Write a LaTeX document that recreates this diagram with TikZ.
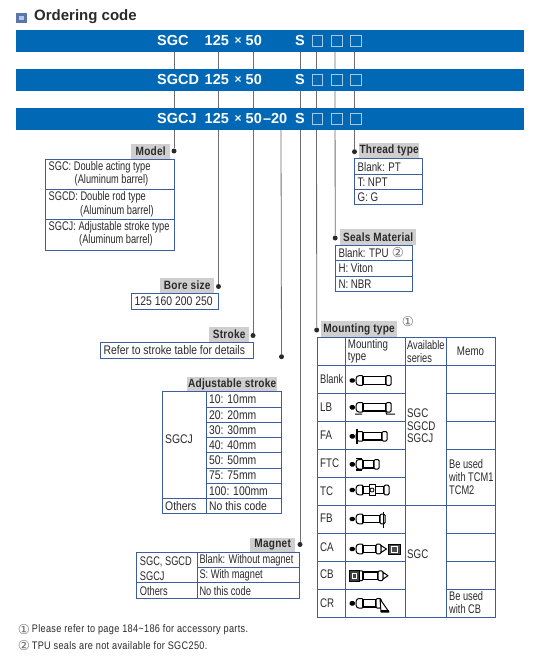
\documentclass[tikz,border=0pt]{standalone}
\usepackage{fontspec}
\setmainfont{Liberation Sans}
\newfontfamily\narrowf[FakeStretch=0.78]{Liberation Sans}
\newfontfamily\tightf[FakeStretch=0.74]{Liberation Sans}
\newfontfamily\widerf[FakeStretch=0.83]{Liberation Sans}
\newfontfamily\narrowb[FakeStretch=0.84,LetterSpace=2]{Liberation Sans Bold}
\newfontfamily\symf{DejaVu Sans}
\definecolor{barblue}{HTML}{0068B4}
\definecolor{boxblue}{HTML}{3E5C9F}
\definecolor{lab}{HTML}{CFCFCF}
\definecolor{ink}{HTML}{2A2A2A}
\definecolor{leader}{HTML}{6E6E6E}
\tikzset{
  bar/.style={fill=barblue,draw=none,minimum width=508pt,minimum height=22.3pt,anchor=north west,inner sep=0pt},
  bartext/.style={anchor=west,inner sep=0pt,text=white,font=\fontsize{14.5}{14.5}\selectfont\bfseries},
  slot/.style={draw=white!65!barblue,line width=.6pt,fill=none},
  leaderline/.style={draw=leader,line width=.8pt},
  dotn/.style={circle,fill=ink,inner sep=0pt,minimum size=5pt},
  headlab/.style={fill=lab,inner sep=0pt,anchor=north west,text=ink,font=\narrowb\fontsize{12}{12}\selectfont},
  txt/.style={anchor=west,inner sep=0pt,text=ink,font=\narrowf\fontsize{12.5}{12.5}\selectfont},
  txtt/.style={txt,font=\tightf\fontsize{12.5}{12.5}\selectfont},
  txtw/.style={txt,font=\widerf\fontsize{12.5}{12.5}\selectfont},
  txtc/.style={txt,anchor=center},
  grid/.style={draw=boxblue,line width=.8pt},
  note/.style={anchor=west,inner sep=0pt,text=ink,font=\widerf\fontsize{11}{11}\selectfont\addfontfeatures{LetterSpace=3}},
  circn/.style={anchor=center,inner sep=0pt,text=ink!70,font=\symf\fontsize{13.5}{13.5}\selectfont},
  ic/.style={draw=black,line width=1pt,fill=white},
  pics/cyl/.style={code={
    \fill[black,rounded corners=1.5pt] (0.5,-2.2) rectangle (6,2.2);
    \draw[ic,rounded corners=1pt] (7.2,-3.2) -- (9,-4.8) -- (14,-4.8) -- (14,4.8) -- (9,4.8) -- (7.2,3.2) -- cycle;
    \draw[ic,line width=1.1pt] (14,-3.7) rectangle (14+#1,3.7);
    \draw[ic,rounded corners=1.2pt] (14+#1,-4.8) rectangle (19+#1,4.8);
  }},
}
\newcommand\headbox[6]{\node[headlab,minimum width=#4pt,minimum height=#5pt,align=center] (#1) at (#2,#3) {#6};}
\begin{document}
\begin{tikzpicture}[x=1pt,y=-1pt]
\useasboundingbox[fill=white] (0,0) rectangle (536,658);

% title
\fill[boxblue!85!white] (16,13) rectangle (26.7,23);
\fill[boxblue!35!white] (19,16) rectangle (23.7,20);
\node[anchor=west,inner sep=0pt,text=ink,font=\fontsize{15}{15}\selectfont\bfseries] (title) at (34,17) {Ordering code};

% anchors on the bars
\foreach \n/\x in {a/174,b/218.5,c/253,e/300,f/316.5,g/335,h/354.5}{\coordinate (top\n) at (\x,52);}
\coordinate (topd) at (281,130);

% dots
\node[dotn] (dmodel) at (174,151) {};
\node[dotn] (dbore) at (218.5,286.5) {};
\node[dotn] (dstroke) at (253,335.5) {};
\node[dotn] (dadj) at (281.5,356.7) {};
\node[dotn] (dmag) at (300,544.5) {};
\node[dotn] (dmount) at (316.7,330) {};
\node[dotn] (dseal) at (335.2,238) {};
\node[dotn] (dthread) at (354.5,151.7) {};

% leaders
\draw[leaderline] (topa) -- (dmodel);
\draw[leaderline] (topb) -- (dbore);
\draw[leaderline] (topc) -- (dstroke);
\draw[leaderline] (topd) -- (dadj);
\draw[leaderline] (tope) -- (dmag);
\draw[leaderline] (topf) -- (dmount);
\draw[leaderline] (topg) -- (dseal);
\draw[leaderline] (toph) -- (dthread);

% bars
\node[bar] (bar1) at (16,29.7) {};
\node[bar] (bar2) at (16,68.7) {};
\node[bar] (bar3) at (16,107.7) {};
\foreach \y/\m in {41/SGC,80/SGCD,119/SGCJ}{
  \node[bartext] (code\m) at (157,\y) {\m};
}
\foreach \y/\k in {41/p,80/q,119/r}{
  \node[bartext] (size\k) at (204.5,\y) {125};
  \node[bartext,font=\fontsize{12}{12}\selectfont\bfseries] (times\k) at (234.5,\y) {×};
  \node[bartext] (stk\k) at (245.5,\y) {50};
  \node[bartext] (mag\k) at (295,\y) {S};
  \draw[slot] (312,\y-5.3) rectangle (322.4,\y+5.3);
  \draw[slot] (331,\y-5.3) rectangle (342,\y+5.3);
  \draw[slot] (350,\y-5.3) rectangle (361,\y+5.3);
}
\node[bartext] (adjcode) at (262.8,119) {–20};

% Model
\headbox{hmodel}{131}{143.5}{39}{15.5}{Model}
\draw[grid] (45.7,159) rectangle (174,250.7);
\draw[grid] (45.7,189.4) -- (174,189.4) (45.7,219.8) -- (174,219.8);
\node[txtt] (m1) at (48.5,167) {SGC: Double acting type};
\node[txtt] (m2) at (74.5,180.5) {(Aluminum barrel)};
\node[txtt] (m3) at (48.5,197.5) {SGCD: Double rod type};
\node[txtt] (m4) at (80,211) {(Aluminum barrel)};
\node[txtt] (m5) at (48.5,227.5) {SGCJ: Adjustable stroke type};
\node[txtt] (m6) at (79,240.5) {(Aluminum barrel)};

% Bore
\headbox{hbore}{160}{278}{54}{15}{Bore size}
\draw[grid] (131.3,293) rectangle (218,309);
\node[txtw] (b1) at (134.5,301.5) {125 160 200 250};

% Stroke
\headbox{hstroke}{209}{327}{40}{15}{Stroke}
\draw[grid] (100.7,342) rectangle (253,358);
\node[txtw] (s1) at (103.5,350) {Refer to stroke table for details};

% Adjustable stroke
\headbox{hadj}{187}{376.3}{90}{15}{Adjustable stroke}
\draw[grid] (162.7,391.3) rectangle (281.7,513.8);
\draw[grid] (206.7,391.3) -- (206.7,513.8);
\foreach \y in {407,422.3,437.4,452.8,468,483.3}{\draw[grid] (206.7,\y) -- (281.7,\y);}
\draw[grid] (162.7,498.3) -- (281.7,498.3);
\node[txtw] (a0) at (165,439.5) {SGCJ};
\node[txtw] (a1) at (209,399.5) {10: 10mm};
\node[txtw] (a2) at (209,414.7) {20: 20mm};
\node[txtw] (a3) at (209,430) {30: 30mm};
\node[txtw] (a4) at (209,445) {40: 40mm};
\node[txtw] (a5) at (209,460.3) {50: 50mm};
\node[txtw] (a6) at (209,475.7) {75: 75mm};
\node[txtw] (a7) at (209,490.7) {100: 100mm};
\node[txtw] (a8) at (165,506) {Others};
\node[txtw] (a9) at (209,506) {No this code};

% Magnet
\headbox{hmag}{250}{537.3}{45}{15}{Magnet}
\draw[grid] (136.7,552.3) rectangle (299.5,598.3);
\draw[grid] (197.3,552.3) -- (197.3,598.3);
\draw[grid] (197.3,567.7) -- (299.5,567.7);
\draw[grid] (136.7,582.8) -- (299.5,582.8);
\node[txtt] (g1) at (139.7,561.7) {SGC, SGCD};
\node[txtt] (g2) at (139.7,575.7) {SGCJ};
\node[txtt] (g3) at (139.7,590.7) {Others};
\node[txtt] (g4) at (199.3,560.3) {Blank: Without magnet};
\node[txtt] (g5) at (199.3,575.7) {S: With magnet};
\node[txtt] (g6) at (199.3,590.7) {No this code};

% Thread
\headbox{hthread}{359}{143}{60}{15.3}{Thread type}
\draw[grid] (354.7,158.7) rectangle (422,204.7);
\draw[grid] (354.7,174.3) -- (422,174.3) (354.7,189.4) -- (422,189.4);
\node[txt] (t1) at (357.5,166.7) {Blank: PT};
\node[txt] (t2) at (357.5,182) {T: NPT};
\node[txt] (t3) at (357.5,197) {G: G};

% Seals
\headbox{hseal}{340}{229}{76}{16}{Seals Material}
\draw[grid] (335.5,245) rectangle (412.7,291.3);
\draw[grid] (335.5,260.8) -- (412.7,260.8) (335.5,276) -- (412.7,276);
\node[txt] (e1) at (338.3,253) {Blank: TPU};
\node[circn] (e1c) at (398,253) {②};
\node[txt] (e2) at (338.3,268.5) {H: Viton};
\node[txt] (e3) at (338.3,284) {N: NBR};

% Mounting
\headbox{hmount}{321}{321}{75.7}{15.7}{Mounting type}
\node[circn] (mc) at (408,321.7) {①};
\draw[grid] (317,337.3) rectangle (495,617);
\draw[grid] (345.3,337.3) -- (345.3,617) (405,337.3) -- (405,617) (446,337.3) -- (446,617);
\draw[grid] (317,365) -- (495,365);
\foreach \y in {393.3,421,449.3,477.3}{\draw[grid] (317,\y) -- (405,\y);}
\foreach \y in {393.3,421,449.3}{\draw[grid] (446,\y) -- (495,\y);}
\draw[grid] (317,505) -- (495,505);
\foreach \y in {533.3,561,589}{\draw[grid] (317,\y) -- (405,\y); \draw[grid] (446,\y) -- (495,\y);}
\node[txt] (h1) at (347.7,345) {Mounting};
\node[txt] (h2) at (347.7,358) {type};
\node[txtt] (h3) at (407,345) {Available};
\node[txtt] (h4) at (407,358) {series};
\node[txtc] (h5) at (470.5,351) {Memo};
\node[txtt] (r1) at (320,379) {Blank};
\node[txt] (r2) at (320,406.7) {LB};
\node[txt] (r3) at (320,435) {FA};
\node[txt] (r4) at (320,462.7) {FTC};
\node[txt] (r5) at (320,490.7) {TC};
\node[txt] (r6) at (320,518) {FB};
\node[txt] (r7) at (320,546.7) {CA};
\node[txt] (r8) at (320,574) {CB};
\node[txt] (r9) at (320,602.7) {CR};
\node[txt] (v1) at (407,412.7) {SGC};
\node[txt] (v2) at (407,425.7) {SGCD};
\node[txt] (v3) at (407,438.3) {SGCJ};
\node[txt] (v4) at (407,554) {SGC};
\node[txtt] (n1) at (449,464) {Be used};
\node[txtt] (n2) at (449,477.3) {with TCM1};
\node[txtt] (n3) at (449,490) {TCM2};
\node[txtt] (n4) at (449,596) {Be used};
\node[txtt] (n5) at (449,609) {with CB};

% Mounting icons
\pic at (349,380.5) {cyl=23};
\pic at (349,407.3) {cyl=23};
\draw[black,line width=1pt] (355,414) -- (362,414) (386,412) -- (386.5,414) -- (395,414);
\pic at (349,436.3) {cyl=19};
\draw[black,line width=1.3pt] (357,428.7) -- (357,444);
\pic at (349,464.3) {cyl=11};
\draw[black,line width=1.2pt] (356,458.5) -- (362,458.5) (356,470) -- (362,470);
\pic at (349,490) {cyl=21};
\draw[ic] (369,484.5) rectangle (375,495.5);
\draw[black,line width=.8pt] (372,490) circle (2);
\pic at (349,519) {cyl=17};
\draw[black,line width=1.3pt] (383.7,511.7) -- (383.7,527.7);
\pic at (349,549) {cyl=13};
\draw[ic,line join=round] (381,545.5) -- (386.5,549) -- (381,552.5) -- cycle;
\draw[black,line width=.8pt,fill=black!70] (388.7,544) rectangle (400,554.7);
\draw[white,line width=.7pt] (391.7,546.7) rectangle (397,552);
\pic at (349,575.7) {cyl=15};
\draw[black,line width=.8pt,fill=black!75] (349.3,570.5) rectangle (359,581.5);
\draw[white,line width=.6pt] (352,573.5) rectangle (356.5,578.5);
\draw[ic,line join=round] (383,572.3) -- (388,575.7) -- (383,579) -- cycle;
\pic at (349,603.3) {cyl=13};
\draw[ic,line join=round] (380,599) -- (389,612) -- (381,612) -- cycle;
\fill[black] (381,609.5) rectangle (389,612);

% notes
\node[circn] (c1) at (24,630) {①};
\node[note] (f1) at (31.7,630) {Please refer to page 184\textasciitilde186 for accessory parts.};
\node[circn] (c2) at (24,646) {②};
\node[note] (f2) at (31.7,646) {TPU seals are not available for SGC250.};
\end{tikzpicture}
\end{document}
